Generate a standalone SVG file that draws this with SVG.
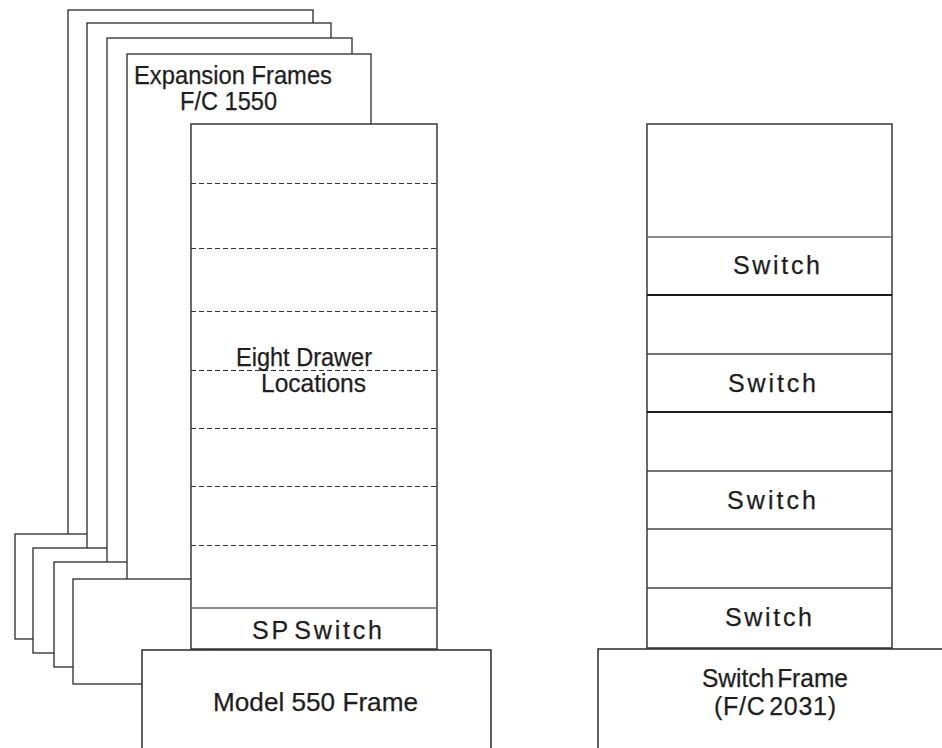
<svg xmlns="http://www.w3.org/2000/svg" width="942" height="748" viewBox="0 0 942 748">
<style>
  .frm { fill: #fff; stroke: #2a2a2a; stroke-width: 1.3; }
  .box { fill: #fff; stroke: #2a2a2a; stroke-width: 1.4; }
  .open { fill: #fff; stroke: #2a2a2a; stroke-width: 1.5; }
  .dash { stroke: #333; stroke-width: 1; stroke-dasharray: 5 3; fill: none; }
  .sep { stroke: #444; stroke-width: 1.3; fill: none; }
  .sepd { stroke: #1a1a1a; stroke-width: 1.8; fill: none; }
  .sepg { stroke: #666; stroke-width: 1.3; fill: none; }
  text { font-family: "Liberation Sans", Arial, Helvetica, sans-serif; font-size: 25px; fill: #1e1e1e; stroke: #1e1e1e; stroke-width: 0.25; }
</style>
<rect x="0" y="0" width="942" height="748" fill="#fff"/>

<g id="expansion-frame-1">
  <rect class="frm" x="68" y="10" width="245" height="540"/>
  <rect class="frm" x="15" y="534" width="100" height="105"/>
</g>
<g id="expansion-frame-2">
  <rect class="frm" x="87" y="23" width="244" height="540"/>
  <rect class="frm" x="33" y="548" width="100" height="105"/>
</g>
<g id="expansion-frame-3">
  <rect class="frm" x="107" y="38" width="245" height="540"/>
  <rect class="frm" x="54" y="562" width="100" height="105"/>
</g>
<g id="expansion-frame-4">
  <rect class="frm" x="127" y="54" width="244" height="540"/>
  <rect class="frm" x="73" y="579" width="140" height="105"/>
  <text x="134" y="84" textLength="198" lengthAdjust="spacingAndGlyphs">Expansion Frames</text>
  <text x="180" y="110" textLength="97" lengthAdjust="spacingAndGlyphs">F/C 1550</text>
</g>

<g id="drawer-column">
  <rect class="box" x="191" y="124" width="246" height="525"/>
  <line class="dash" x1="191" y1="183.5" x2="437" y2="183.5"/>
  <line class="dash" x1="191" y1="248.5" x2="437" y2="248.5"/>
  <line class="dash" x1="191" y1="311.5" x2="437" y2="311.5"/>
  <line class="dash" x1="191" y1="370.5" x2="437" y2="370.5"/>
  <line class="dash" x1="191" y1="428.5" x2="437" y2="428.5"/>
  <line class="dash" x1="191" y1="486.5" x2="437" y2="486.5"/>
  <line class="dash" x1="191" y1="545.5" x2="437" y2="545.5"/>
  <line class="sepg" x1="191" y1="608" x2="437" y2="608"/>
  <text x="236" y="366" textLength="136" lengthAdjust="spacingAndGlyphs">Eight Drawer</text>
  <text x="261" y="392" textLength="105" lengthAdjust="spacingAndGlyphs">Locations</text>
</g>
<g id="sp-switch">
  <text x="252" y="639" textLength="130" lengthAdjust="spacing" word-spacing="-6">SP Switch</text>
</g>

<g id="model-550-frame">
  <path class="open" d="M142,760 V650 H491 V760"/>
  <text x="213" y="711" textLength="205" lengthAdjust="spacingAndGlyphs">Model 550 Frame</text>
</g>

<g id="switch-column">
  <rect class="box" x="647" y="124" width="245" height="524"/>
  <line class="sepg" x1="647" y1="237" x2="892" y2="237"/>
  <line class="sepd" x1="647" y1="295" x2="892" y2="295"/>
  <line class="sep" x1="647" y1="354" x2="892" y2="354"/>
  <line class="sepd" x1="647" y1="412" x2="892" y2="412"/>
  <line class="sep" x1="647" y1="471" x2="892" y2="471"/>
  <line class="sep" x1="647" y1="529" x2="892" y2="529"/>
  <line class="sep" x1="647" y1="588" x2="892" y2="588"/>
</g>
<g id="switch-1"><text x="733" y="274" textLength="87" lengthAdjust="spacing">Switch</text></g>
<g id="switch-2"><text x="728" y="392" textLength="88" lengthAdjust="spacing">Switch</text></g>
<g id="switch-3"><text x="727" y="509" textLength="89" lengthAdjust="spacing">Switch</text></g>
<g id="switch-4"><text x="725" y="626" textLength="87" lengthAdjust="spacing">Switch</text></g>

<g id="switch-frame">
  <path class="open" d="M598,760 V649 H950"/>
  <text x="702" y="687" textLength="146" lengthAdjust="spacingAndGlyphs" word-spacing="-4">Switch Frame</text>
  <text x="714" y="715" textLength="122" lengthAdjust="spacing" word-spacing="-4">(F/C 2031)</text>
</g>
</svg>
